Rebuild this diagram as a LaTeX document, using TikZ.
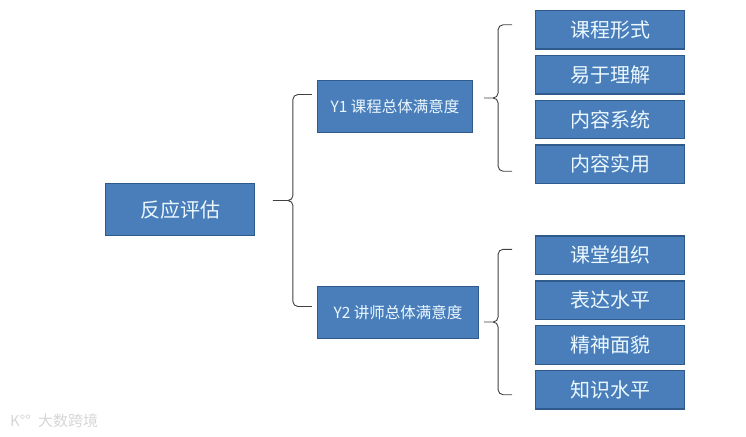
\documentclass[tikz,border=0pt]{standalone}
\usepackage{fontspec}
\setmainfont{Noto Sans CJK SC}
\usepackage{tikz}
\usetikzlibrary{positioning}

\begin{document}
\begin{tikzpicture}[x=1pt, y=1pt, font=\rmfamily ,
box/.style={rectangle, draw=boxEdge, line width=1.3pt, fill=boxBlue, text=white!92!cyan, inner sep=0pt, minimum height=38.5pt, minimum width=148.5pt, font=\fontsize{20}{24}\selectfont} ,
rootBox/.style={box, minimum height=52pt} ,
midBox/.style={box, minimum height=52pt, font=\fontsize{15.5}{18}\selectfont} ,
bracket/.style={draw=black!75, line width=0.9pt, rounded corners=5pt} ,
sep/.style={row sep=5pt, inner sep=0pt} ,
mark text/.style={text=black!16, font=\fontsize{15}{18}\selectfont}
]
\definecolor{boxBlue}{HTML}{4A7EBB}
\definecolor{boxEdge}{HTML}{2F5A8C}
\useasboundingbox (0,0) rectangle (746,-436) ;

\node [rootBox] (root) at (180,-209.5) {反应评估} ;

\node [midBox, minimum width=155pt] (course) at (395,-106.5) {Y1 课程总体满意度} ;
\node [midBox, minimum width=161pt] (teacher) at (398,-312.5) {Y2 讲师总体满意度} ;

\matrix (courseItems) at (610,-97) [sep] {
    \node [box] (form) {课程形式} ; \\
    \node [box] (easy) {易于理解} ; \\
    \node [box] (system) {内容系统} ; \\
    \node [box] (useful) {内容实用} ; \\
} ;
\matrix (teacherItems) at (610,-322.5) [sep] {
    \node [box] (organize) {课堂组织} ; \\
    \node [box] (express) {表达水平} ; \\
    \node [box] (spirit) {精神面貌} ; \\
    \node [box] (knowledge) {知识水平} ; \\
} ;

% brace ends sit just off the boxes
\coordinate (rootTip) at ([shift={(15,9)}]root.east) ;
\coordinate (rootSpine) at ([xshift=38]root.east |- rootTip) ;
\coordinate (courseEnd) at ([shift={(-5,12)}]course.west) ;
\coordinate (teacherEnd) at ([shift={(-5,6)}]teacher.west) ;
\draw [bracket] (courseEnd) -| (rootSpine) -- (rootTip) -- (rootSpine) |- (teacherEnd) ;

\coordinate (courseTip) at ([xshift=8]course.east |- 0,-98) ;
\coordinate (courseSpine) at ([xshift=-37]form.west |- courseTip) ;
\coordinate (formEnd) at ([shift={(-23,5)}]form.west) ;
\coordinate (usefulEnd) at ([shift={(-23,-7)}]useful.west) ;
\draw [bracket] (formEnd) -| (courseSpine) -- (courseTip) -- (courseSpine) |- (usefulEnd) ;

\coordinate (teacherTip) at ([xshift=2]teacher.east |- 0,-322) ;
\coordinate (teacherSpine) at ([xshift=-37]organize.west |- teacherTip) ;
\coordinate (organizeEnd) at ([shift={(-23,6)}]organize.west) ;
\coordinate (knowledgeEnd) at ([shift={(-23,-5)}]knowledge.west) ;
\draw [bracket] (organizeEnd) -| (teacherSpine) -- (teacherTip) -- (teacherSpine) |- (knowledgeEnd) ;

\node [mark text] (markName) at (68,-421) {大数跨境} ;
\node [mark text, left=0pt of markName] (markLogo) {K°°} ;
\end{tikzpicture}
\end{document}
